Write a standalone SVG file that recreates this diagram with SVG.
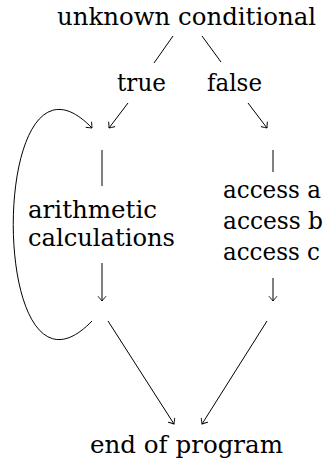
<svg xmlns="http://www.w3.org/2000/svg" width="326" height="463" viewBox="0 0 326 463">
<defs>
<style>
.t{font-family:'DejaVu Serif','Liberation Serif',serif;font-size:24px;fill:#000}
.e{stroke:#000;stroke-width:1;fill:none}
</style>
<marker id="ah" viewBox="-6 -5 8 10" markerWidth="8" markerHeight="10" refX="0" refY="0" orient="auto" markerUnits="userSpaceOnUse">
<path d="M-4.5,-3.8 Q-1.2,-0.9 0,0 Q-1.2,0.9 -4.5,3.8" stroke="#000" stroke-width="0.9" fill="none" stroke-linecap="round"/>
</marker>
</defs>
<rect width="326" height="463" fill="#fff"/>
<g id="connectors">
<line class="e" x1="173" y1="36" x2="154" y2="63"/>
<line class="e" x1="202" y1="36" x2="221" y2="62"/>
<line class="e" x1="128" y1="103" x2="109" y2="128" marker-end="url(#ah)"/>
<line class="e" x1="248" y1="103" x2="267" y2="128" marker-end="url(#ah)"/>
<line class="e" x1="102" y1="150" x2="102" y2="186"/>
<line class="e" x1="273" y1="150" x2="273" y2="172"/>
<line class="e" x1="102" y1="263" x2="102" y2="301" marker-end="url(#ah)"/>
<line class="e" x1="273" y1="278" x2="273" y2="301" marker-end="url(#ah)"/>
<line class="e" x1="108" y1="321" x2="174" y2="424" marker-end="url(#ah)"/>
<line class="e" x1="267" y1="321" x2="202" y2="424" marker-end="url(#ah)"/>
<path class="e" d="M92,321 C-13,430 -13,19 92,128" marker-end="url(#ah)"/>
</g>
<g id="root"><text class="t" x="57" y="25" textLength="259" lengthAdjust="spacingAndGlyphs">unknown conditional</text></g>
<g id="true"><text class="t" x="117" y="91" textLength="49" lengthAdjust="spacingAndGlyphs">true</text></g>
<g id="false"><text class="t" x="207" y="91" textLength="55" lengthAdjust="spacingAndGlyphs">false</text></g>
<g id="arith">
<text class="t" x="28" y="218" textLength="129" lengthAdjust="spacingAndGlyphs">arithmetic</text>
<text class="t" x="28" y="246" textLength="147" lengthAdjust="spacingAndGlyphs">calculations</text>
</g>
<g id="access">
<text class="t" x="223" y="198" textLength="98" lengthAdjust="spacingAndGlyphs">access a</text>
<text class="t" x="223" y="229" textLength="100" lengthAdjust="spacingAndGlyphs">access b</text>
<text class="t" x="223" y="260" textLength="97" lengthAdjust="spacingAndGlyphs">access c</text>
</g>
<g id="end"><text class="t" x="90" y="453" textLength="193" lengthAdjust="spacingAndGlyphs">end of program</text></g>
</svg>
